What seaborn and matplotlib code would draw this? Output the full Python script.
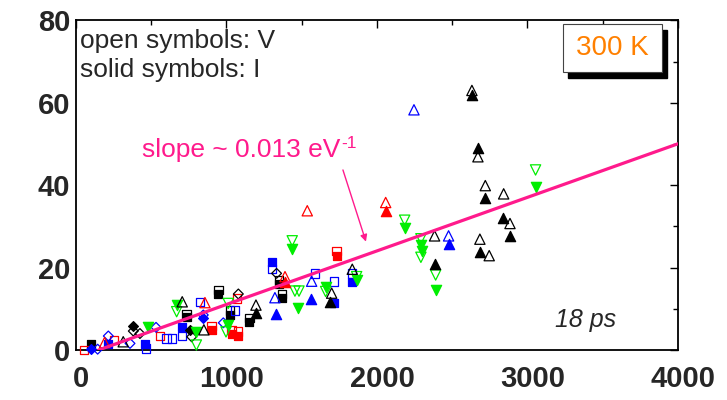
import matplotlib
matplotlib.use("Agg")
import matplotlib.pyplot as plt
import matplotlib.transforms as mtransforms
from matplotlib.patches import Rectangle
from matplotlib.ticker import MultipleLocator
import numpy as np
import pandas as pd
import seaborn as sns

# ---- data: energy (x) vs. quantity (y); open = V, solid = I ----
blk_tri_open_x = [2631, 2671, 2720, 2842, 2884, 2684, 2746, 2383, 1836, 1699, 1196, 706, 850, 314]
blk_tri_open_y = [63.0, 46.9, 39.9, 37.9, 30.7, 26.9, 22.9, 27.7, 19.6, 13.8, 10.9, 11.7, 4.9, 2.0]
blk_tri_solid_x = [2631, 2671, 2720, 2840, 2884, 2684, 2383, 1688, 1196]
blk_tri_solid_y = [62.0, 49.0, 37.0, 32.0, 27.7, 23.7, 20.9, 11.7, 8.9]

blk_sq_open_x = [735, 946, 1023, 1152, 1351, 1370]
blk_sq_open_y = [8.8, 14.5, 9.6, 7.7, 17.0, 13.6]
blk_sq_solid_x = [100, 735, 946, 1023, 1152, 1351, 1370]
blk_sq_solid_y = [1.4, 7.9, 13.5, 8.6, 6.7, 16.0, 12.6]

blk_dia_open_x = [381, 425, 769, 1079, 1333]
blk_dia_open_y = [4.6, 4.0, 3.2, 13.6, 18.6]
blk_dia_solid_x = [381, 757]
blk_dia_solid_y = [5.8, 4.9]

blu_tri_open_x = [2246, 2476, 1566, 1322]
blu_tri_open_y = [58.3, 27.7, 16.7, 12.7]
blu_tri_solid_x = [2476, 1561, 1330]
blu_tri_solid_y = [25.7, 12.5, 8.7]

blu_sq_open_x = [1303, 1588, 1716, 1836, 824, 1056, 465, 602, 640, 706]
blu_sq_open_y = [19.6, 18.6, 16.6, 18.6, 11.6, 9.6, 0.4, 2.8, 2.8, 3.4]
blu_sq_solid_x = [1303, 1836, 1716, 210, 458, 702]
blu_sq_solid_y = [21.4, 16.6, 11.5, 1.5, 1.4, 5.7]

blu_dia_open_x = [144, 215, 359, 532, 846, 979]
blu_dia_open_y = [0.2, 3.4, 1.6, 5.5, 8.5, 6.6]
blu_dia_solid_x = [100, 841]
blu_dia_solid_y = [0.2, 7.7]

red_tri_open_x = [2058, 1537, 1389, 857, 190]
red_tri_open_y = [35.8, 33.8, 17.8, 11.5, 1.8]
red_tri_solid_x = [2058, 1389]
red_tri_solid_y = [33.7, 16.6]

red_sq_open_x = [53, 252, 558, 1068, 1732, 901, 1034, 1078]
red_sq_open_y = [0.0, 2.4, 3.4, 12.5, 24.0, 5.8, 4.8, 4.5]
red_sq_solid_x = [1732, 901, 1034, 1078]
red_sq_solid_y = [22.8, 4.8, 3.8, 3.5]

grn_dn_open_x = [3054, 2184, 2292, 2292, 2390, 1437, 1865, 1659, 1455, 1482, 1012, 669, 997, 800]
grn_dn_open_y = [43.7, 31.5, 27.0, 22.5, 18.2, 26.5, 17.8, 14.2, 14.3, 14.3, 11.3, 9.3, 4.4, 1.2]
grn_dn_solid_x = [3054, 2184, 2292, 2300, 2390, 1437, 1865, 1659, 1473, 669, 480, 797, 1010]
grn_dn_solid_y = [39.5, 29.5, 25.5, 24.0, 14.5, 24.5, 17.0, 15.2, 10.1, 10.9, 5.5, 4.4, 6.1]

# linear fit: slope ~ 0.013 eV^-1, crossing zero near 150
fit_slope = 0.013
fit_x0 = 150
fit_xmax = 4000

x_ticks = [0, 1000, 2000, 3000, 4000]
y_ticks = [0, 20, 40, 60, 80]

# ---- styling ----
sns.set_style("white")
plt.rcParams["font.family"] = ["Liberation Sans", "DejaVu Sans"]

BLACK = "#000000"
BLUE = "#0000ff"
RED = "#ff0000"
GREEN = "#00ee00"
PINK = "#ff1a8c"
ORANGE = "#ff8000"

fig = plt.figure(figsize=(7.27, 4.0), dpi=100)
ax = fig.add_axes([0.1045, 0.125, 0.828, 0.824])

groups = [
    (blk_sq_open_x, blk_sq_open_y, BLACK, "s", False),
    (blk_sq_solid_x, blk_sq_solid_y, BLACK, "s", True),
    (red_sq_open_x, red_sq_open_y, RED, "s", False),
    (red_sq_solid_x, red_sq_solid_y, RED, "s", True),
    (blu_sq_open_x, blu_sq_open_y, BLUE, "s", False),
    (blu_sq_solid_x, blu_sq_solid_y, BLUE, "s", True),
    (blk_dia_open_x, blk_dia_open_y, BLACK, "D", False),
    (blk_dia_solid_x, blk_dia_solid_y, BLACK, "D", True),
    (blu_dia_open_x, blu_dia_open_y, BLUE, "D", False),
    (blu_dia_solid_x, blu_dia_solid_y, BLUE, "D", True),
    (grn_dn_open_x, grn_dn_open_y, GREEN, "v", False),
    (grn_dn_solid_x, grn_dn_solid_y, GREEN, "v", True),
    (red_tri_open_x, red_tri_open_y, RED, "^", False),
    (red_tri_solid_x, red_tri_solid_y, RED, "^", True),
    (blu_tri_open_x, blu_tri_open_y, BLUE, "^", False),
    (blu_tri_solid_x, blu_tri_solid_y, BLUE, "^", True),
    (blk_tri_open_x, blk_tri_open_y, BLACK, "^", False),
    (blk_tri_solid_x, blk_tri_solid_y, BLACK, "^", True),
]
sizes = {"s": 6.0, "D": 5.0, "^": 7.4, "v": 7.4}

for gx, gy, col, mk, solid in groups:
    df = pd.DataFrame({"x": gx, "y": gy})
    ms = sizes[mk]
    sns.scatterplot(
        data=df, x="x", y="y", ax=ax, marker=mk, s=ms ** 2,
        facecolor=col if solid else "none", edgecolor=col,
        linewidth=0.9, legend=False, zorder=3, clip_on=False,
    )

# fit line
line_df = pd.DataFrame({"x": [fit_x0, fit_xmax]})
line_df["y"] = fit_slope * (line_df["x"] - fit_x0)
sns.lineplot(data=line_df, x="x", y="y", ax=ax, color=PINK, linewidth=2.3,
             zorder=5, legend=False)

ax.set_xlim(0, 4000)
ax.set_ylim(0, 80)
ax.set_xlabel("")
ax.set_ylabel("")
ax.set_xticks(x_ticks)
ax.set_yticks(y_ticks)
ax.set_xticklabels([str(t) for t in x_ticks])
ax.set_yticklabels([str(t) for t in y_ticks])
ax.xaxis.set_minor_locator(MultipleLocator(500))
ax.yaxis.set_minor_locator(MultipleLocator(10))
ax.tick_params(which="both", direction="in", top=True, right=True,
               color="black", width=1.0)
ax.tick_params(which="major", length=5.5)
ax.tick_params(which="minor", length=3.5)
ax.tick_params(axis="x", which="major", labelsize=21, pad=11)
ax.tick_params(axis="y", which="major", labelsize=21, pad=4)
for lab in ax.get_xticklabels() + ax.get_yticklabels():
    lab.set_fontweight("bold")
shift = mtransforms.ScaledTranslation(5 / 100, 0, fig.dpi_scale_trans)
for lab in ax.get_xticklabels():
    lab.set_transform(lab.get_transform() + shift)
for sp in ax.spines.values():
    sp.set_color("black")
    sp.set_linewidth(1.3)

# annotations
ax.text(0.006, 0.917, "open symbols: V", transform=ax.transAxes,
        fontsize=19, ha="left", va="baseline")
ax.text(0.006, 0.828, "solid symbols: I", transform=ax.transAxes,
        fontsize=19, ha="left", va="baseline")
slope_txt = ax.text(0.1096, 0.586, "slope ~ 0.013 eV", transform=ax.transAxes,
                    fontsize=19, color=PINK, ha="left", va="baseline")
ax.annotate("-1", xy=(1.0, 1.0), xycoords=slope_txt, xytext=(1, 1),
            textcoords="offset points", fontsize=12.5, color=PINK,
            ha="left", va="top")
ax.annotate("", xy=(1927, 26.3), xytext=(1774, 43.7),
            arrowprops=dict(arrowstyle="-|>", color=PINK, lw=1.0,
                            mutation_scale=10, shrinkA=0, shrinkB=0),
            zorder=6)
ax.text(0.796, 0.071, "18 ps", transform=ax.transAxes, fontsize=18,
        style="italic", ha="left", va="baseline")

# temperature box with drop shadow
bx0, by0, bw, bh = 0.809, 0.844, 0.164, 0.145
ax.add_patch(Rectangle((bx0 + 0.009, by0 - 0.018), bw, bh, transform=ax.transAxes,
                       facecolor="black", edgecolor="black", zorder=7, clip_on=False))
ax.add_patch(Rectangle((bx0, by0), bw, bh, transform=ax.transAxes,
                       facecolor="white", edgecolor="#444444", linewidth=0.8,
                       zorder=8, clip_on=False))
ax.text(bx0 + bw / 2, 0.895, "300 K", transform=ax.transAxes, fontsize=20,
        color=ORANGE, ha="center", va="baseline", zorder=9)

fig.savefig("out.png", dpi=100)
